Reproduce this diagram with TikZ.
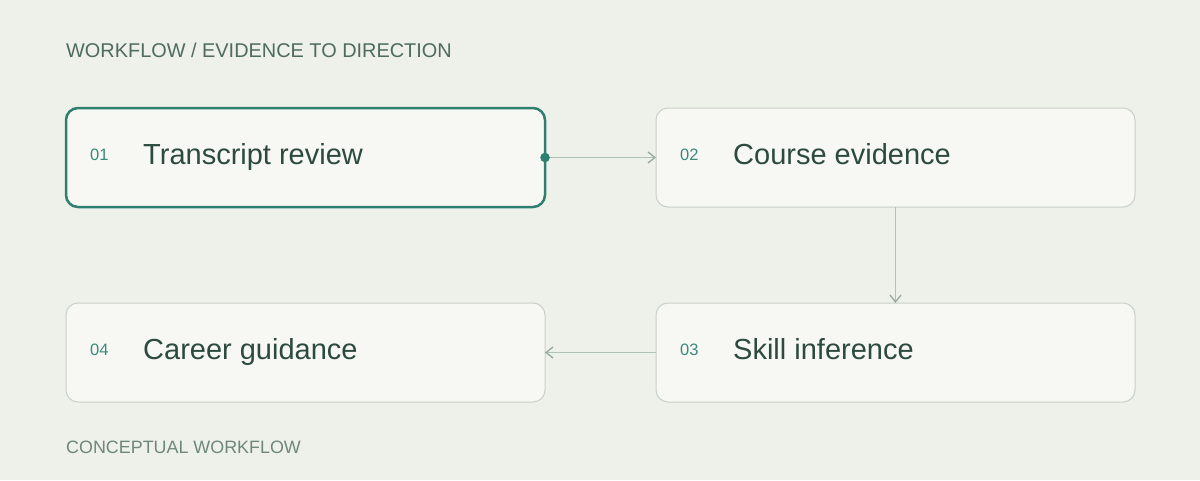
\documentclass[tikz,border=0pt]{standalone}
\usepackage{fontspec}
\setmainfont{Liberation Sans}
\usetikzlibrary{arrows.meta}
\definecolor{bg}{HTML}{EEF0EA}
\definecolor{boxfill}{HTML}{F7F8F3}
\definecolor{boxline}{HTML}{C9D0C7}
\definecolor{teal}{HTML}{2F7F71}
\definecolor{numcol}{HTML}{3A8A7B}
\definecolor{titlecol}{HTML}{2D4A3F}
\definecolor{headcol}{HTML}{4F6B60}
\definecolor{footcol}{HTML}{6F877B}
\definecolor{conn}{HTML}{B0C1B5}
\definecolor{tipcol}{HTML}{94AA9C}
\tikzset{
  stepbox/.style={draw=boxline, line width=1pt, fill=boxfill, rounded corners=12pt,
    minimum width=479pt, minimum height=99pt, inner sep=0pt, outer sep=0pt},
  activebox/.style={stepbox, draw=teal, line width=2.5pt},
  numlbl/.style={anchor=base west, inner sep=0pt, text=numcol, font=\fontsize{16.5}{18}\selectfont},
  titlelbl/.style={anchor=base west, inner sep=0pt, text=titlecol, font=\fontsize{29}{32}\selectfont},
  conarrow/.style={draw=conn, line width=1.7pt, -{Straight Barb[length=7pt,width=11pt,line width=1.3pt,color=tipcol]}},
}
\begin{document}
\begin{tikzpicture}[x=1pt,y=-1pt]
\fill[bg] (0,0) rectangle (1200,480);
\useasboundingbox (0,0) rectangle (1200,480);

\node[anchor=base west, inner sep=0pt, text=headcol, font=\fontsize{19.9}{22}\selectfont] (head) at (66,57.5) {WORKFLOW / EVIDENCE TO DIRECTION};
\node[anchor=base west, inner sep=0pt, text=footcol, font=\fontsize{17.9}{20}\selectfont] (foot) at (66,453) {CONCEPTUAL WORKFLOW};

\node[activebox] (b1) at (305.5,157.5) {};
\node[stepbox] (b2) at (895.5,157.5) {};
\node[stepbox] (b3) at (895.5,352.5) {};
\node[stepbox] (b4) at (305.5,352.5) {};

\node[numlbl] (n1) at (90,160.5) {01};
\node[titlelbl] (t1) at (143,164.5) {Transcript review};
\node[numlbl] (n2) at (680,160.5) {02};
\node[titlelbl] (t2) at (733,164.5) {Course evidence};
\node[numlbl] (n3) at (680,355.5) {03};
\node[titlelbl] (t3) at (733,359.5) {Skill inference};
\node[numlbl] (n4) at (90,355.5) {04};
\node[titlelbl] (t4) at (143,359.5) {Career guidance};

\draw[conarrow] (b1.east) -- (b2.west);
\draw[conarrow] (b2.south) -- (b3.north);
\draw[conarrow] (b3.west) -- (b4.east);
\fill[teal] (b1.east) circle (4.8pt);
\end{tikzpicture}
\end{document}
